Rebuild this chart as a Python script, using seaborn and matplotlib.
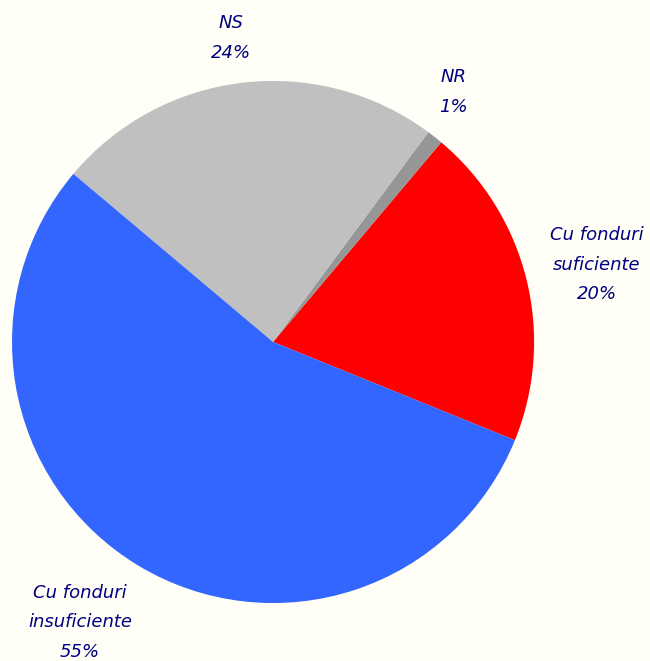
import matplotlib
matplotlib.use("Agg")
import matplotlib.pyplot as plt
import seaborn as sns

sns.set_theme(style="white")
plt.rcParams['font.family'] = ['DejaVu Sans']

# date
categorii = ["Cu fonduri\nsuficiente", "NR", "NS", "Cu fonduri\ninsuficiente"]
procente = [20, 1, 24, 55]
culori = ["#FF0000", "#969696", "#C0C0C0", "#3366FF"]

# pozitii etichete (coordonate date)
pozitii = [(1.241, 0.295), (0.690, 0.958), (-0.161, 1.165), (-0.739, -1.073)]

fundal = "#FFFFF7"
fig = plt.figure(figsize=(6.5, 6.61), dpi=100, facecolor=fundal)
ax = fig.add_axes([0, 0, 1, 1])
ax.set_facecolor(fundal)

wedges, texts = ax.pie(procente, colors=culori, startangle=-22.1,
                       counterclock=True, radius=1.0,
                       wedgeprops=dict(linewidth=0))

for t, lab, p, pos in zip(texts, categorii, procente, pozitii):
    t.set_text(f"{lab}\n{p}%")
    t.set_position(pos)
    t.set_ha("center")
    t.set_va("center")
    t.set_fontsize(13)
    t.set_fontstyle("italic")
    t.set_color("#000080")
    t.set_linespacing(1.82)

ax.set_xlim(-1.046, 1.444)
ax.set_ylim(-1.222, 1.310)
ax.set_aspect("auto")
ax.axis("off")

fig.savefig("out.png", dpi=100, facecolor=fundal)
